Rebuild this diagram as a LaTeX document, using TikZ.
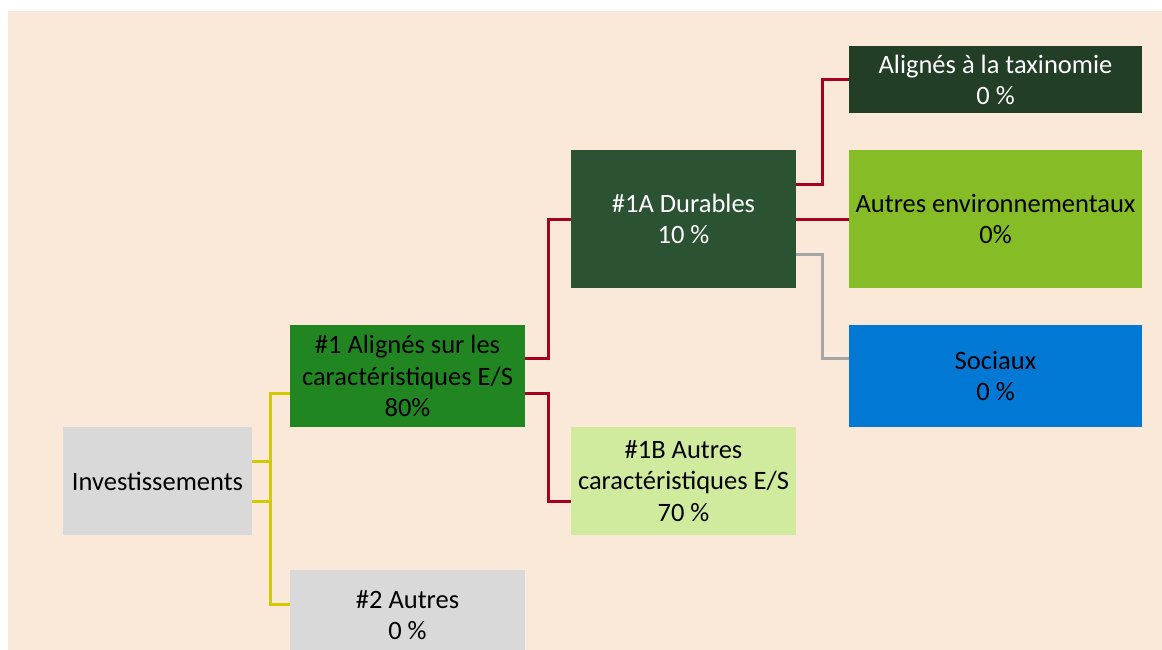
\documentclass[tikz,border=0pt]{standalone}
\usepackage{fontspec}
\setmainfont{Carlito}
\usetikzlibrary{calc}
\definecolor{peach}{RGB}{250,232,216}
\definecolor{boxgray}{RGB}{217,217,217}
\definecolor{forest}{RGB}{33,134,34}
\definecolor{darkgr}{RGB}{44,82,52}
\definecolor{darkergr}{RGB}{35,62,38}
\definecolor{lightgr}{RGB}{208,235,157}
\definecolor{limegr}{RGB}{134,188,37}
\definecolor{bluebx}{RGB}{0,120,212}
\definecolor{linered}{RGB}{165,0,33}
\definecolor{lineyel}{RGB}{212,200,0}
\definecolor{linegray}{RGB}{166,166,166}
\tikzset{
  boxnode/.style={rectangle, inner sep=0pt, align=center,
    font=\fontsize{26.5}{31.5}\selectfont},
  conn/.style={line width=3pt},
}
\begin{document}
\begin{tikzpicture}[x=1pt,y=-1pt]
\useasboundingbox (0,0) rectangle (1162,650);
\fill[peach] (8,11) rectangle (1162,650);

\node[boxnode, fill=boxgray, minimum width=189pt, minimum height=108pt] (inv) at (157.5,481) {Investissements};
\node[boxnode, fill=forest, minimum width=235pt, minimum height=102pt] (n1) at (407.5,376) {\#1 Alignés sur les\\caractéristiques E/S\\80\%};
\node[boxnode, fill=boxgray, minimum width=235pt, minimum height=90pt] (n2) at (407.5,615) {\#2 Autres\\0 \%};
\node[boxnode, fill=darkgr, text=white, minimum width=225pt, minimum height=138pt] (n1A) at (683.5,219) {\#1A Durables\\10 \%};
\node[boxnode, fill=lightgr, minimum width=225pt, minimum height=108pt] (n1B) at (683.5,481) {\#1B Autres\\caractéristiques E/S\\70 \%};
\node[boxnode, fill=darkergr, text=white, minimum width=293pt, minimum height=67pt] (tax) at (995.5,80) {Alignés à la taxinomie\\0 \%};
\node[boxnode, fill=limegr, minimum width=293pt, minimum height=138pt] (env) at (995.5,219) {Autres environnementaux\\0\%};
\node[boxnode, fill=bluebx, minimum width=293pt, minimum height=102pt] (soc) at (995.5,376) {Sociaux\\0 \%};

% yellow connectors
\draw[conn, lineyel] ([yshift=20pt]inv.east) -- ++(18,0) coordinate (yj) |- ([yshift=-17pt]n1.west);
\draw[conn, lineyel] ([yshift=-20pt]inv.east) -| (yj);
\draw[conn, lineyel] (yj) |- ([yshift=11pt]n2.west);
% red connectors
\draw[conn, linered] ([yshift=18pt]n1.east) -- ++(23,0) |- (n1A.west);
\draw[conn, linered] ([yshift=-17pt]n1.east) -- ++(23,0) |- ([yshift=-20pt]n1B.west);
\draw[conn, linered] ([yshift=35pt]n1A.east) -- ++(26,0) |- (tax.west);
\draw[conn, linered] (n1A.east) -- (env.west);
\draw[conn, linegray] ([yshift=-35pt]n1A.east) -- ++(26,0) |- ([yshift=18pt]soc.west);
\end{tikzpicture}
\end{document}
